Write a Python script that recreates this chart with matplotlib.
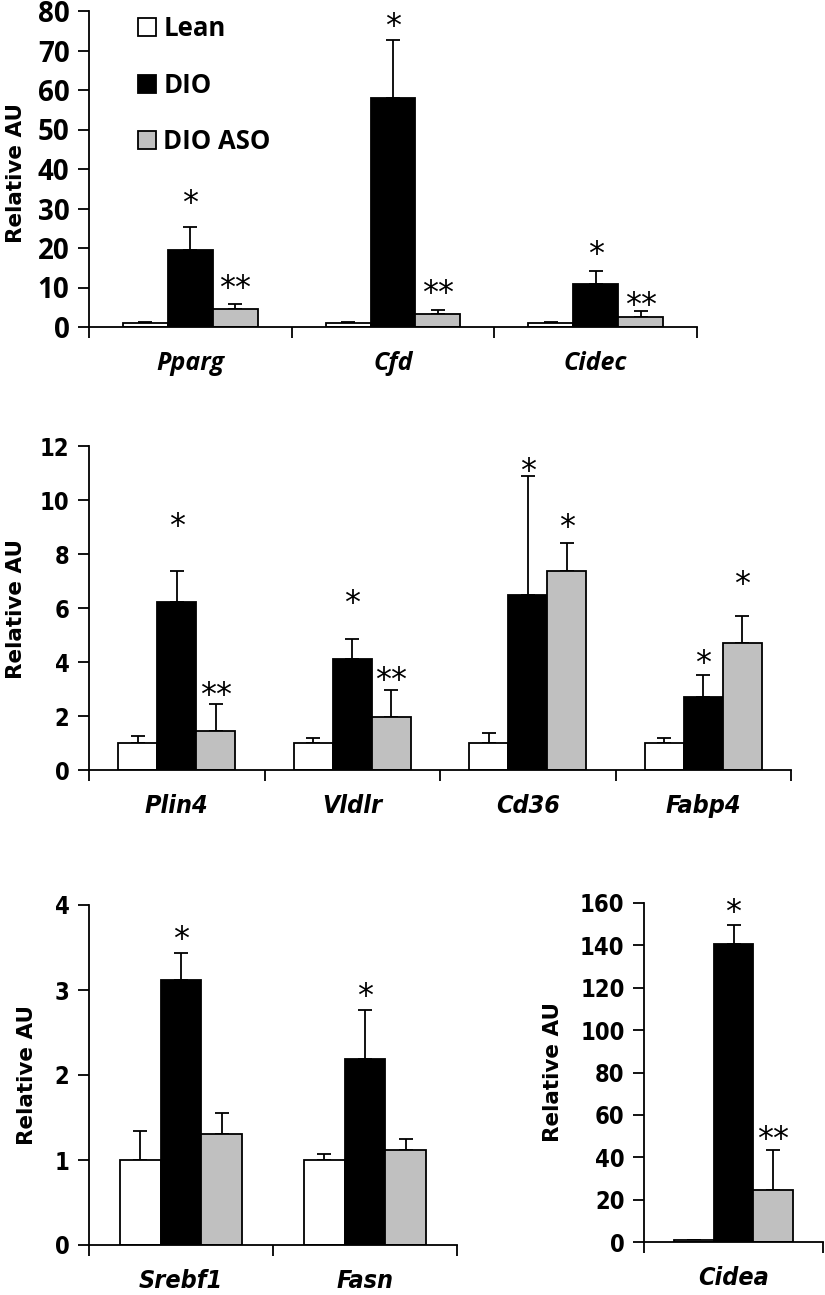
import matplotlib
matplotlib.use('Agg')
import matplotlib.pyplot as plt
from matplotlib.patches import Patch
import numpy as np

# --- data ---
genes_top = ['Pparg', 'Cfd', 'Cidec']
lean_top = [1.0, 1.0, 0.95]
lean_top_err = [0.3, 0.3, 0.25]
dio_top = [19.4, 58.0, 10.9]
dio_top_err = [5.8, 14.7, 3.3]
aso_top = [4.6, 3.2, 2.6]
aso_top_err = [1.3, 1.0, 1.5]
dio_top_star = ['*', '*', '*']
dio_top_star_y = [33.8, 78.5, 20.8]
aso_top_star = ['**', '**', '**']
aso_top_star_y = [12.2, 11.0, 7.8]

genes_mid = ['Plin4', 'Vldlr', 'Cd36', 'Fabp4']
lean_mid = [1.0, 1.0, 1.0, 1.0]
lean_mid_err = [0.25, 0.18, 0.36, 0.19]
dio_mid = [6.23, 4.12, 6.47, 2.7]
dio_mid_err = [1.13, 0.73, 4.43, 0.83]
aso_mid = [1.44, 1.98, 7.38, 4.7]
aso_mid_err = [1.0, 0.99, 1.01, 0.99]
dio_mid_star = ['*', '*', '*', '*']
dio_mid_star_y = [9.38, 6.53, 11.42, 4.31]
aso_mid_star = ['**', '**', '*', '*']
aso_mid_star_y = [3.13, 3.66, 9.32, 7.22]

genes_bl = ['Srebf1', 'Fasn']
lean_bl = [1.0, 1.0]
lean_bl_err = [0.34, 0.07]
dio_bl = [3.12, 2.19]
dio_bl_err = [0.32, 0.57]
aso_bl = [1.31, 1.12]
aso_bl_err = [0.24, 0.13]
dio_bl_star = ['*', '*']
dio_bl_star_y = [3.71, 3.04]
aso_bl_star = ['', '']
aso_bl_star_y = [0, 0]

genes_br = ['Cidea']
lean_br = [1.0]
lean_br_err = [0.0]
dio_br = [140.5]
dio_br_err = [9.3]
aso_br = [24.7]
aso_br_err = [18.9]
dio_br_star = ['*']
dio_br_star_y = [160]
aso_br_star = ['**']
aso_br_star_y = [53]

groups = ['Lean', 'DIO', 'DIO ASO']
colors = ['white', 'black', '#c0c0c0']

W, H = 825, 1295
fig = plt.figure(figsize=(W / 100, H / 100), dpi=100)

def box(l, r, t, b):
    return [l / W, 1 - b / H, (r - l) / W, (b - t) / H]

wide = dict(family=['Open Sans', 'DejaVu Sans'], weight='bold')
narrow = dict(family='DejaVu Sans', weight='bold', stretch='condensed')

def panel(rect, genes, vals, errs, stars, stars_y, ymax, ystep, font, ticksize, lab_xy):
    ax = fig.add_axes(rect)
    x = np.arange(len(genes)) + 0.5
    bw = 0.222
    for i in range(3):
        pos = x + (i - 1) * bw
        ax.bar(pos, vals[i], bw, color=colors[i], edgecolor='black', linewidth=1.3, zorder=2)
        ax.errorbar(pos, vals[i], yerr=[np.zeros(len(genes)), errs[i]], fmt='none',
                    ecolor='black', elinewidth=1.3, capsize=5, capthick=1.3, zorder=1)
        for j in range(len(genes)):
            if stars[i][j]:
                ax.annotate(stars[i][j], (pos[j], stars_y[i][j]), xytext=(0, -13),
                            textcoords='offset points', ha='center', va='baseline',
                            fontsize=23, family='DejaVu Sans')
    ax.set_xlim(0, len(genes))
    ax.set_ylim(0, ymax)
    ax.set_yticks(np.arange(0, ymax + ystep / 2, ystep))
    ax.set_xticks(np.arange(len(genes) + 1))
    ax.set_xticklabels([])
    ax.set_xticks(x, minor=True)
    ax.set_xticklabels(genes, minor=True, fontsize=18, style='italic', **font)
    ax.tick_params(axis='x', which='minor', length=0, pad=17)
    ax.tick_params(axis='x', which='major', direction='out', length=8, width=1.3)
    ax.tick_params(axis='y', direction='out', length=8, width=1.3, pad=6)
    ax.set_yticklabels([f'{v:g}' for v in ax.get_yticks()], fontsize=ticksize, **font)
    for s in ['top', 'right']:
        ax.spines[s].set_visible(False)
    for s in ['left', 'bottom']:
        ax.spines[s].set_linewidth(1.3)
    ax.set_ylabel('Relative AU', fontsize=15.5, fontweight='bold', family='DejaVu Sans')
    ax.yaxis.set_label_coords(*lab_xy)
    return ax

ax1 = panel(box(89, 697, 11, 327), genes_top,
            [lean_top, dio_top, aso_top], [lean_top_err, dio_top_err, aso_top_err],
            [[''] * 3, dio_top_star, aso_top_star], [[0] * 3, dio_top_star_y, aso_top_star_y],
            80, 10, wide, 20, (-0.104, 0.487))
handles = [Patch(facecolor=c, edgecolor='black', linewidth=1.3) for c in colors]
ax1.legend(handles, groups, loc='upper left', bbox_to_anchor=(0.08, 0.987), frameon=False,
           borderpad=0, borderaxespad=0, handlelength=0.7, handleheight=0.7,
           handletextpad=0.3, labelspacing=1.15, prop={**wide, 'size': 18.5})

panel(box(89, 791, 446, 770), genes_mid,
      [lean_mid, dio_mid, aso_mid], [lean_mid_err, dio_mid_err, aso_mid_err],
      [[''] * 4, dio_mid_star, aso_mid_star], [[0] * 4, dio_mid_star_y, aso_mid_star_y],
      12, 2, narrow, 17, (-0.09, 0.497))

panel(box(89, 457, 905, 1245), genes_bl,
      [lean_bl, dio_bl, aso_bl], [lean_bl_err, dio_bl_err, aso_bl_err],
      [[''] * 2, dio_bl_star, aso_bl_star], [[0] * 2, dio_bl_star_y, aso_bl_star_y],
      4, 1, narrow, 17, (-0.141, 0.5))

panel(box(644, 823, 903, 1242), genes_br,
      [lean_br, dio_br, aso_br], [lean_br_err, dio_br_err, aso_br_err],
      [[''], dio_br_star, aso_br_star], [[0], dio_br_star_y, aso_br_star_y],
      160, 20, narrow, 17, (-0.45, 0.5))

fig.savefig('out.png', dpi=100)
